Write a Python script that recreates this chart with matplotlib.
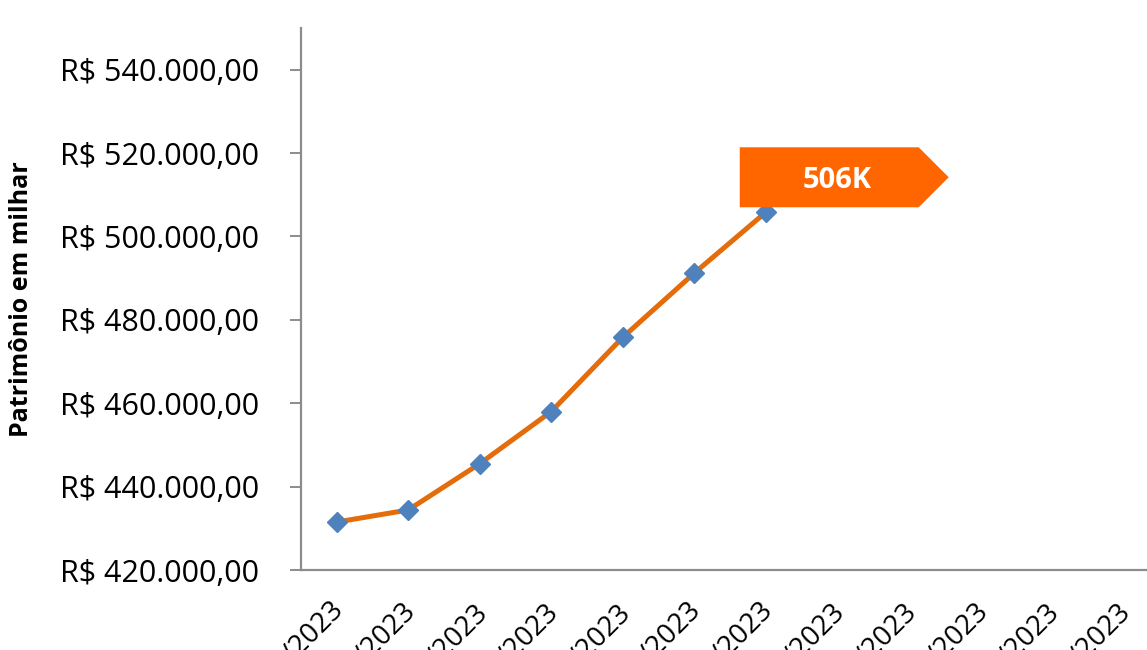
import matplotlib
matplotlib.use("Agg")
import matplotlib.pyplot as plt
import matplotlib.transforms as mtransforms
from matplotlib.patches import Polygon
from matplotlib.ticker import FuncFormatter

plt.rcParams['font.family'] = ['Open Sans', 'DejaVu Sans']

meses = ["jan/2023", "fev/2023", "mar/2023", "abr/2023", "mai/2023", "jun/2023",
         "jul/2023", "ago/2023", "set/2023", "out/2023", "nov/2023", "dez/2023"]
patrimonio = [431500, 434400, 445500, 458000, 475800, 491200, 505800]
rotulo = "506K"

fig = plt.figure(figsize=(11.47, 6.5), dpi=100)
ax = fig.add_axes([301/1147, 80/650, 858/1147, 542/650])

x = list(range(len(patrimonio)))
ax.plot(x, patrimonio, color='#E46C0A', lw=3.6, zorder=2)
ax.plot(x, patrimonio, ls='none', marker='D', ms=10, color='#4F81BD', zorder=3)

ax.set_xlim(-0.5, len(meses) - 0.5)
ax.set_ylim(420000, 550000)
ax.set_yticks(range(420000, 540001, 20000))
ax.yaxis.set_major_formatter(FuncFormatter(
    lambda v, p: "R$ " + f"{v:,.2f}".replace(",", "X").replace(".", ",").replace("X", ".")))
ax.set_xticks(range(len(meses)))
ax.set_xticklabels(meses, rotation=45, ha='right', va='top', rotation_mode='anchor')

for s in ['top', 'right']:
    ax.spines[s].set_visible(False)
for s in ['left', 'bottom']:
    ax.spines[s].set_color('#8C8C8C')
    ax.spines[s].set_linewidth(1.6)
ax.tick_params(axis='y', length=8, width=1.4, color='#8C8C8C', labelsize=22, pad=22)
ax.tick_params(axis='x', length=0, labelsize=20, pad=20)
# leve deslocamento dos rótulos inclinados para a esquerda
shift = mtransforms.ScaledTranslation(-0.06, 0, fig.dpi_scale_trans)
for lbl in ax.get_xticklabels():
    lbl.set_transform(lbl.get_transform() + shift)
ax.set_ylabel("Patrimônio em milhar", fontsize=18, fontweight='bold')
ax.yaxis.set_label_coords(-0.311, 0.5)

# etiqueta do último valor
tr = fig.dpi_scale_trans + mtransforms.ScaledTranslation(x[-1], patrimonio[-1], ax.transData)
tag = Polygon([(-0.26, 0.05), (1.53, 0.05), (1.83, 0.35), (1.53, 0.65), (-0.26, 0.65)],
              closed=True, facecolor='#FF6600', edgecolor='none', transform=tr, zorder=4,
              clip_on=False)
ax.add_patch(tag)
ax.text(0.71, 0.32, rotulo, transform=tr, color='white', fontsize=21, fontweight='bold',
        ha='center', va='center', zorder=5)

fig.savefig("out.png", dpi=100)
